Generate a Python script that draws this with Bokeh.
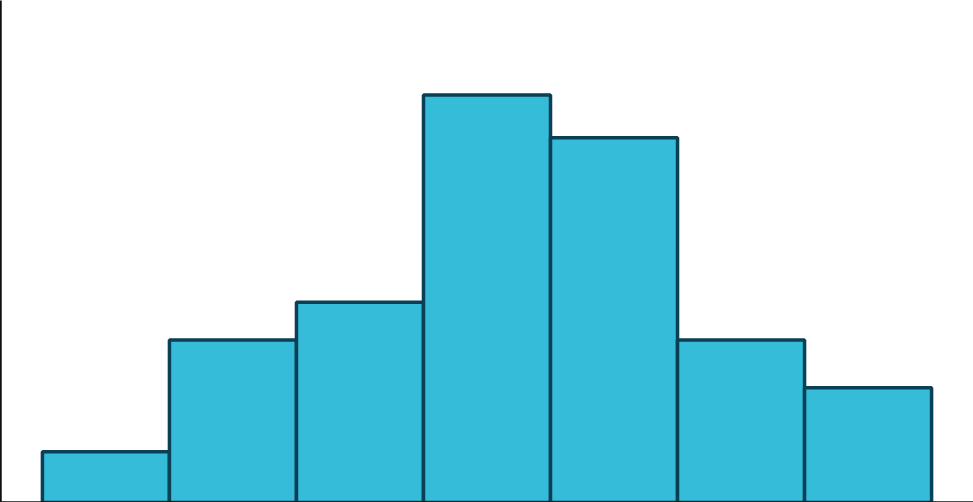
from bokeh.plotting import figure
from bokeh.models import Range1d, FixedTicker
from bokeh.embed import file_html
from bokeh.resources import INLINE

# Histogram data (bin edges and counts)
bin_edges = [0, 1, 2, 3, 4, 5, 6, 7]
counts = [5.0, 16.0, 19.7, 40.1, 35.9, 16.0, 11.3]

lefts = bin_edges[:-1]
rights = bin_edges[1:]

p = figure(width=973, height=502, output_backend="svg", toolbar_location=None,
           x_range=Range1d(-0.33, 7.33), y_range=Range1d(0, 49.4),
           min_border_left=0, min_border_right=0, min_border_top=0, min_border_bottom=0)
p.styles = {"position": "absolute", "left": "0px", "top": "0px"}

p.quad(left=lefts, right=rights, bottom=0, top=counts,
       fill_color="#35bcd9", line_color="#0b3f55", line_width=3.5)

p.grid.visible = False
p.outline_line_color = None
p.background_fill_color = "white"
p.border_fill_color = "white"

for ax in (p.xaxis[0], p.yaxis[0]):
    ax.ticker = FixedTicker(ticks=[])
    ax.major_tick_line_color = None
    ax.minor_tick_line_color = None
    ax.major_tick_out = 0
    ax.major_tick_in = 0
    ax.minor_tick_out = 0
    ax.major_label_standoff = 0
    ax.axis_line_color = "#111111"
    ax.axis_line_width = 2.5

open("out.html", "w").write(file_html(p, INLINE))
